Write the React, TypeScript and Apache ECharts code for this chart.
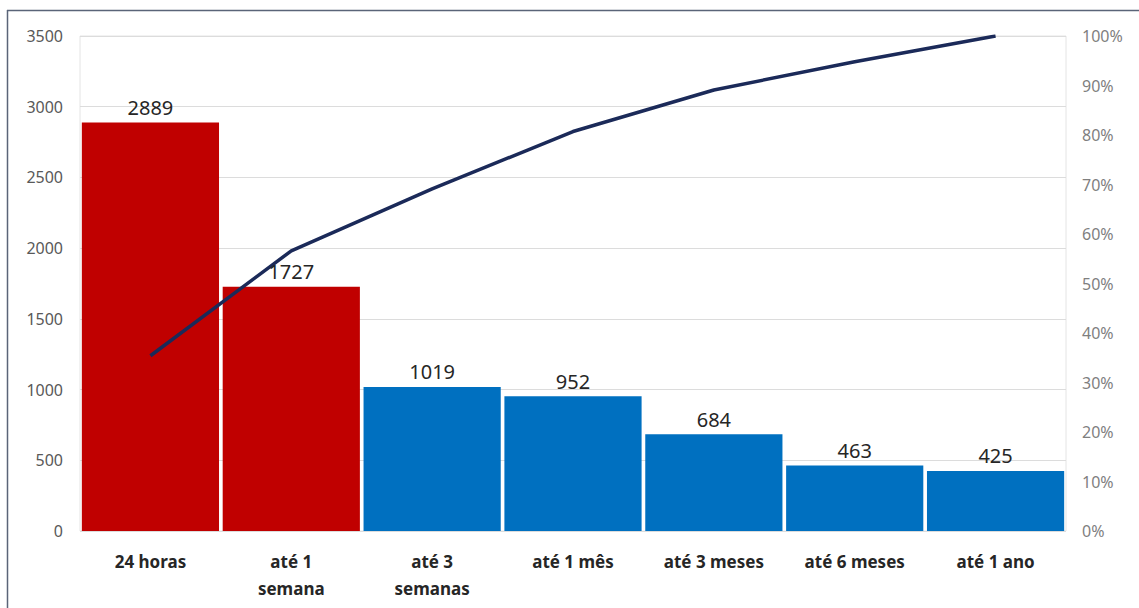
import React, { useEffect, useRef } from "react";
import * as echarts from "echarts";

// Prazo de resolução: quantidade por faixa de tempo e percentual acumulado
const categories = ["24 horas", "até 1\nsemana", "até 3\nsemanas", "até 1 mês", "até 3 meses", "até 6 meses", "até 1 ano"];
const counts = [2889, 1727, 1019, 952, 684, 463, 425];
const barColors = ["#C00000", "#C00000", "#0070C0", "#0070C0", "#0070C0", "#0070C0", "#0070C0"];
const cumulativeShare = [0.354, 0.566, 0.691, 0.807, 0.891, 0.948, 1.0];

const FONT = "'Noto Sans', 'Open Sans', sans-serif";
const GAP = "2.6%";

export default function App() {
  const ref = useRef<HTMLDivElement>(null);

  useEffect(() => {
    if (!ref.current) return;
    const chart = echarts.init(ref.current, undefined, { renderer: "svg" });
    chart.setOption({
      animation: false,
      backgroundColor: "#ffffff",
      textStyle: { fontFamily: FONT },
      graphic: [
        { type: "line", shape: { x1: 7.5, y1: 10, x2: 7.5, y2: 608 }, style: { stroke: "#5a6478", lineWidth: 1.5 } },
        { type: "line", shape: { x1: 7, y1: 10.5, x2: 1139, y2: 10.5 }, style: { stroke: "#5a6478", lineWidth: 1.5 } },
      ],
      grid: {
        left: 80,
        right: 73,
        top: 36,
        bottom: 77,
        show: true,
        borderColor: "#e4e4e4",
        borderWidth: 1,
      },
      xAxis: {
        type: "category",
        data: categories,
        axisLine: { show: false },
        axisTick: { show: false },
        axisLabel: {
          color: "#262626",
          fontFamily: FONT,
          fontWeight: "bold",
          fontSize: 17,
          lineHeight: 27,
          margin: 17,
          interval: 0,
        },
      },
      yAxis: [
        {
          type: "value",
          min: 0,
          max: 3500,
          interval: 500,
          axisLine: { show: false },
          axisTick: { show: false },
          splitLine: { lineStyle: { color: "#dcdcdc", width: 1 } },
          axisLabel: {
            color: "#595959",
            fontFamily: FONT,
            fontSize: 16,
            margin: 17,
            formatter: (v: number) => String(v),
          },
        },
        {
          type: "value",
          min: 0,
          max: 1,
          interval: 0.1,
          position: "right",
          axisLine: { show: false },
          axisTick: { show: false },
          splitLine: { show: false },
          axisLabel: {
            color: "#7f7f7f",
            fontFamily: FONT,
            fontSize: 16,
            margin: 16,
            formatter: (v: number) => `${Math.round(v * 100)}%`,
          },
        },
      ],
      series: [
        {
          type: "bar",
          data: counts.map((v, i) => ({ value: v, itemStyle: { color: barColors[i] } })),
          barCategoryGap: GAP,
          z: 2,
        },
        {
          type: "line",
          yAxisIndex: 1,
          data: cumulativeShare,
          showSymbol: false,
          symbol: "none",
          lineStyle: { color: "#1B2A59", width: 3.5 },
          z: 3,
        },
        {
          // value labels, drawn above the cumulative line
          type: "bar",
          data: counts,
          barGap: "-100%",
          barCategoryGap: GAP,
          itemStyle: { color: "rgba(0,0,0,0)" },
          silent: true,
          label: {
            show: true,
            position: "top",
            distance: 5,
            color: "#262626",
            fontFamily: FONT,
            fontSize: 20,
          },
          z: 4,
        },
      ],
    });
    return () => chart.dispose();
  }, []);

  return (
    <div
      ref={ref}
      style={{ position: "fixed", left: 0, top: 0, width: 1139, height: 608, background: "#fff" }}
    />
  );
}
